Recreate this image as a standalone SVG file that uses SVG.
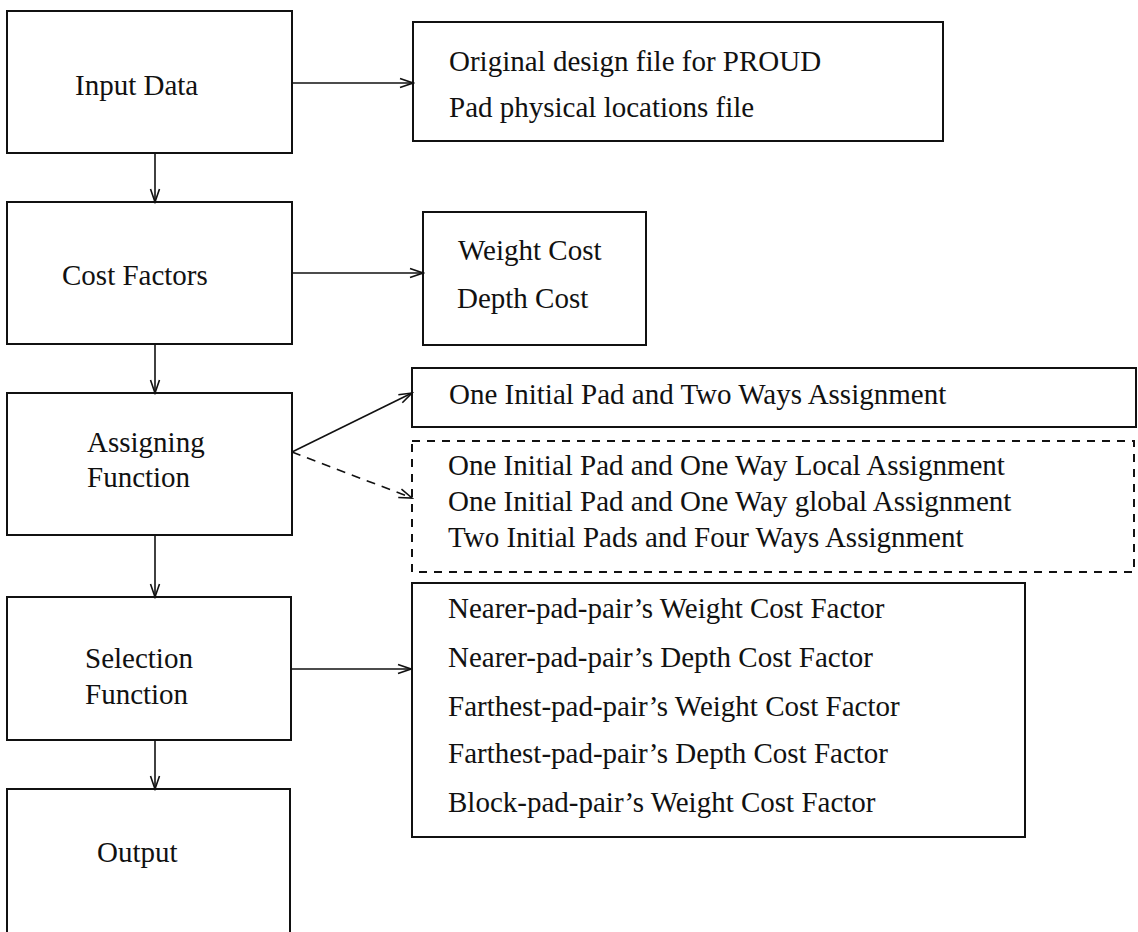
<svg xmlns="http://www.w3.org/2000/svg" width="1138" height="932" viewBox="0 0 1138 932">
<style>
.box{fill:none;stroke:#111;stroke-width:2}
.dbox{fill:none;stroke:#111;stroke-width:2;stroke-dasharray:8 7}
.ln{fill:none;stroke:#111;stroke-width:1.6}
.dl{fill:none;stroke:#111;stroke-width:1.6;stroke-dasharray:9 7}
text{font-family:"Liberation Serif","Times New Roman",serif;font-size:29px;fill:#111}
</style>
<defs>
<marker id="ah" markerWidth="16" markerHeight="12" refX="14" refY="6" orient="auto" markerUnits="userSpaceOnUse">
<path d="M1,1.5 L14,6 L1,10.5" fill="none" stroke="#111" stroke-width="1.6"/>
</marker>
</defs>
<rect width="1138" height="932" fill="#fff"/>
<g id="input-data"><rect class="box" x="7" y="11" width="285" height="142"/><text x="75" y="95">Input Data</text></g>
<g id="cost-factors"><rect class="box" x="7" y="202" width="285" height="142"/><text x="62" y="285">Cost Factors</text></g>
<g id="assigning-function"><rect class="box" x="7" y="393" width="285" height="142"/><text x="87" y="452">Assigning</text><text x="87" y="487">Function</text></g>
<g id="selection-function"><rect class="box" x="7" y="597" width="284" height="143"/><text x="85" y="668">Selection</text><text x="85" y="704">Function</text></g>
<g id="output"><path class="box" d="M7,940 V789 H290 V940"/><text x="97" y="862">Output</text></g>
<g id="input-files"><rect class="box" x="413" y="22" width="530" height="119"/><text x="449" y="71">Original design file for PROUD</text><text x="449" y="117">Pad physical locations file</text></g>
<g id="costs"><rect class="box" x="423" y="212" width="223" height="133"/><text x="458" y="260">Weight Cost</text><text x="457" y="308">Depth Cost</text></g>
<g id="two-ways"><rect class="box" x="412" y="368" width="724" height="59"/><text x="449" y="404">One Initial Pad and Two Ways Assignment</text></g>
<g id="other-assign"><rect class="dbox" x="412" y="441" width="722" height="131"/><text x="448" y="475">One Initial Pad and One Way Local Assignment</text><text x="448" y="511">One Initial Pad and One Way global Assignment</text><text x="448" y="547">Two Initial Pads and Four Ways Assignment</text></g>
<g id="selection-factors"><rect class="box" x="412" y="583" width="613" height="254"/><text x="448" y="618">Nearer-pad-pair’s Weight Cost Factor</text><text x="448" y="667">Nearer-pad-pair’s Depth Cost Factor</text><text x="448" y="716">Farthest-pad-pair’s Weight Cost Factor</text><text x="448" y="763">Farthest-pad-pair’s Depth Cost Factor</text><text x="448" y="812">Block-pad-pair’s Weight Cost Factor</text></g>
<g id="connectors">
<line class="ln" x1="292" y1="83" x2="413" y2="83" marker-end="url(#ah)"/>
<line class="ln" x1="292" y1="273" x2="423" y2="273" marker-end="url(#ah)"/>
<line class="ln" x1="292" y1="452" x2="412" y2="393" marker-end="url(#ah)"/>
<line class="dl" x1="292" y1="452" x2="412" y2="498" marker-end="url(#ah)"/>
<line class="ln" x1="291" y1="669" x2="411" y2="669" marker-end="url(#ah)"/>
<line class="ln" x1="155" y1="153" x2="155" y2="202" marker-end="url(#ah)"/>
<line class="ln" x1="155" y1="344" x2="155" y2="393" marker-end="url(#ah)"/>
<line class="ln" x1="155" y1="535" x2="155" y2="597" marker-end="url(#ah)"/>
<line class="ln" x1="155" y1="740" x2="155" y2="789" marker-end="url(#ah)"/>
</g>
</svg>
